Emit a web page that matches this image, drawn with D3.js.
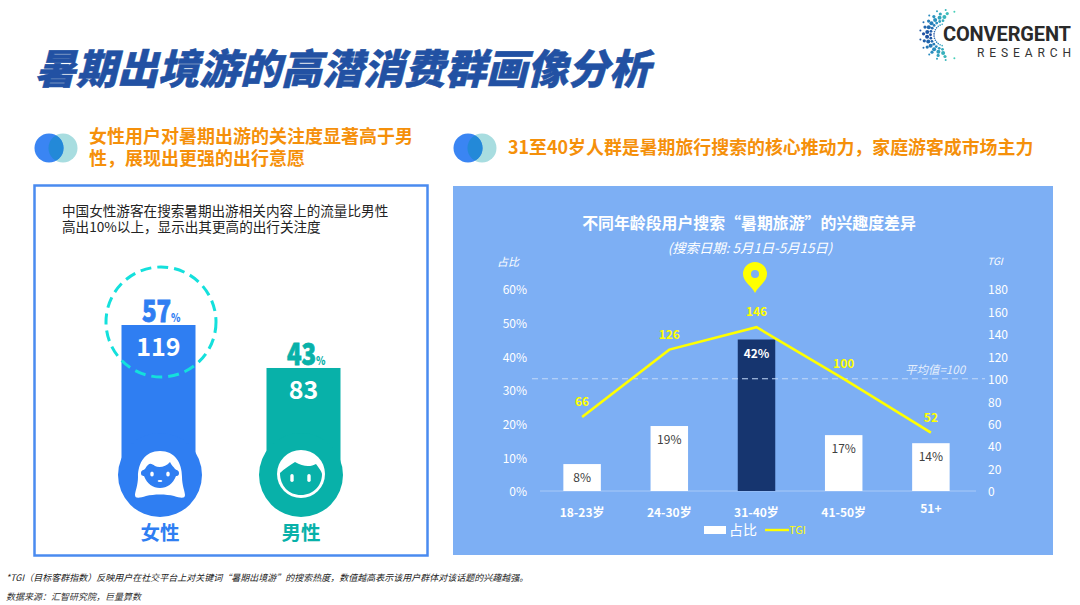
<!DOCTYPE html>
<html>
<head>
<meta charset="utf-8">
<script src="https://cdnjs.cloudflare.com/ajax/libs/d3/7.8.5/d3.min.js"></script>
<style>
  body { margin: 0; background: #fff; }
  svg { display: block; }
  text { font-family: "Noto Sans CJK SC", "Open Sans", sans-serif; }
</style>
</head>
<body>
<script>
// right chart
const ageGroups = ["18-23岁", "24-30岁", "31-40岁", "41-50岁", "51+"];
// bar heights as drawn in the picture; the 31-40 bar stands taller than its 42% label
const shareValues = [8, 19.3, 45, 16.6, 14.2];
const shareLabels = ["8%", "19%", "42%", "17%", "14%"];
const tgiValues = [66, 126, 146, 100, 52];
const tgiAverage = 100;
const shareTicks = [0, 10, 20, 30, 40, 50, 60];
const tgiTicks = [0, 20, 40, 60, 80, 100, 120, 140, 160, 180];

// left chart
const genders = ["女性", "男性"];
const genderShare = [57, 43];
const genderTgi = [119, 83];
const genderColors = ["#2f7ef2", "#08b1a9"];

const blue = "#2f7ef2", teal = "#a8dde0", orange = "#f5900a", navy = "#16356f", yellow = "#ffff00";

const svg = d3.select("body").append("svg").attr("width", 1080).attr("height", 605);

function addText(x, y, str, size, color, opts) {
  opts = opts || {};
  return svg.append("text")
    .attr("x", x).attr("y", y)
    .attr("font-size", size)
    .attr("fill", color)
    .attr("font-weight", opts.weight || 400)
    .attr("font-style", opts.italic ? "italic" : "normal")
    .attr("text-anchor", opts.anchor || "start")
    .text(str);
}

function addLines(x, y, lines, lineHeight, size, color, opts) {
  const t = addText(x, y, "", size, color, opts);
  lines.forEach((l, i) => {
    t.append("tspan").attr("x", x).attr("dy", i ? lineHeight : 0).text(l);
  });
  return t;
}

// header
addText(35, 84, "暑期出境游的高潜消费群画像分析", 41, "#2251a3", {weight: 900, italic: true})
  .attr("stroke", "#2251a3").attr("stroke-width", 0.5);

function venn(x) {
  svg.append("circle").attr("cx", x + 14).attr("cy", 148).attr("r", 14.5).attr("fill", teal);
  svg.append("circle").attr("cx", x).attr("cy", 148).attr("r", 14.5).attr("fill", blue).attr("fill-opacity", 0.95);
  const clip = "venn" + x;
  svg.append("clipPath").attr("id", clip).append("circle").attr("cx", x).attr("cy", 148).attr("r", 14.5);
  svg.append("circle").attr("cx", x + 14).attr("cy", 148).attr("r", 14.5).attr("fill", "#2389d8").attr("clip-path", "url(#" + clip + ")");
}
venn(49);
venn(468);

addLines(89, 143, ["女性用户对暑期出游的关注度显著高于男", "性，展现出更强的出行意愿"], 22, 18, orange, {weight: 700});
addText(508, 154, "31至40岁人群是暑期旅行搜索的核心推动力，家庭游客成市场主力", 17.9, orange, {weight: 700});

// logo
const logo = svg.append("g");
const logoColor = d3.scaleLinear().domain([0, 0.5, 1]).range(["#1c4aa0", "#2a8fc0", "#45cdb8"]);
const logoRings = [
  {r: 11, n: 14, size: 0.8, from: 105, to: 255},
  {r: 14.5, n: 13, size: 1.4, from: 100, to: 262},
  {r: 18, n: 12, size: 2.0, from: 96, to: 268},
  {r: 21.5, n: 11, size: 1.6, from: 90, to: 276},
  {r: 25, n: 12, size: 1.0, from: 68, to: 292}
];
logoRings.forEach(ring => {
  d3.range(ring.n).forEach(i => {
    const t = i / (ring.n - 1);
    const deg = ring.from + (ring.to - ring.from) * t;
    const a = deg * Math.PI / 180;
    logo.append("circle")
      .attr("cx", 945 + ring.r * Math.cos(a))
      .attr("cy", 35 + ring.r * Math.sin(a))
      .attr("r", ring.size)
      .attr("fill", logoColor(Math.abs(deg - 180) / 110));
  });
});
addText(943, 41, "CONVERGENT", 20, "#2a2a2a", {weight: 700}).attr("textLength", 128).style("font-family", "Roboto");
addText(977, 57, "RESEARCH", 12, "#333").attr("textLength", 94).style("font-family", "Roboto");

// left panel
svg.append("rect").attr("x", 34.5).attr("y", 185.5).attr("width", 393).attr("height", 370)
  .attr("fill", "#fff").attr("stroke", "#4a8bf0").attr("stroke-width", 2.5);
addLines(62, 216, ["中国女性游客在搜索暑期出游相关内容上的流量比男性", "高出10%以上，显示出其更高的出行关注度"], 16, 13.6, "#222");

const genderCx = g => g === genders[0] ? 158.5 : 303.5;
const genderY = d3.scaleLinear().domain([0, 57]).range([500, 325]);

genders.forEach((g, i) => {
  const cx = genderCx(g), color = genderColors[i];
  const faceX = i === 0 ? 160 : 301;
  svg.append("rect").attr("x", cx - 37).attr("y", genderY(genderShare[i]))
    .attr("width", 74).attr("height", 475 - genderY(genderShare[i])).attr("fill", color);
  svg.append("circle").attr("cx", faceX).attr("cy", 475).attr("r", 42).attr("fill", color);
  addText(cx, genderY(genderShare[i]) + 31, genderTgi[i], 25, "#fff", {weight: 700, anchor: "middle"});
  // condensed share number, the % stays small behind it
  const top = genderY(genderShare[i]) - 3;
  const num = svg.append("g").attr("transform", "translate(" + (cx - 2) + "," + top + ") scale(0.8,1)");
  num.append("text").attr("text-anchor", "middle").attr("font-size", 30).attr("font-weight", 900)
    .attr("fill", color).attr("stroke", color).attr("stroke-width", 0.8).text(genderShare[i]);
  num.append("text").attr("x", 18).attr("font-size", 12).attr("font-weight", 900)
    .attr("fill", color).text("%");
  addText(faceX, 540, g, 19.5, color, {weight: 700, anchor: "middle"});
});

svg.append("circle").attr("cx", 161).attr("cy", 322).attr("r", 55)
  .attr("fill", "none").attr("stroke", "#14e0dc").attr("stroke-width", 3).attr("stroke-dasharray", "11 6");

// female icon
const fem = svg.append("g").attr("transform", "translate(160,475)");
fem.append("path").attr("fill", "#fff")
  .attr("d", "M0,-24 C15,-24 22,-12 22,2 C22,10 25,17 25,20 C25,24 20,23 14,21 C6,19 -6,19 -14,21 C-20,23 -25,24 -25,20 C-25,17 -22,10 -22,2 C-22,-12 -15,-24 0,-24 Z");
fem.append("path").attr("fill", blue)
  .attr("d", "M-15,-6 C-11,-13 -9,-12 -5,-9 C-1,-7 6,-8 10,-13 C11,-10 14,-8 15,-6 C16,-5 19,-5 19,-2 C19,1 17,1 16,1 C13,9 7,13 0,13 C-7,13 -13,9 -16,1 C-17,1 -19,1 -19,-2 C-19,-5 -16,-5 -15,-6 Z");
fem.selectAll("ellipse").data([-8, 8]).enter().append("ellipse")
  .attr("cx", d => d).attr("cy", -1).attr("rx", 1.8).attr("ry", 2.6).attr("fill", "#fff");
fem.append("ellipse").attr("cx", 0).attr("cy", 6).attr("rx", 2.4).attr("ry", 1.1).attr("fill", "#fff");

// male icon
const mal = svg.append("g").attr("transform", "translate(301,474)");
mal.append("circle").attr("r", 24).attr("fill", "#fff");
mal.append("path").attr("fill", genderColors[1])
  .attr("d", "M-21,-1 C-17,-5 -11,-9 -6,-12 C2,-7 10,-7 15,-10 C18,-6 21,-2 21,0 C21,12 12,21 0,21 C-12,21 -21,12 -21,-1 Z");
mal.selectAll("rect").data([-9, 8]).enter().append("rect")
  .attr("x", d => d - 1.7).attr("y", 0).attr("width", 3.4).attr("height", 8).attr("rx", 1.7).attr("fill", "#fff");

// right panel
svg.append("rect").attr("x", 453).attr("y", 186).attr("width", 600).attr("height", 369).attr("fill", "#7dafF4");
addText(749, 229, "不同年龄段用户搜索“暑期旅游”的兴趣度差异", 15.9, "#fff", {weight: 700, anchor: "middle"});
addText(750, 253, "(搜索日期: 5月1日-5月15日)", 13.4, "#fff", {italic: true, anchor: "middle"});
addText(508, 266, "占比", 11, "#fff", {italic: true, anchor: "middle"});
addText(995, 265, "TGI", 10, "#fff", {italic: true, anchor: "middle"});

const x = d3.scaleBand().domain(ageGroups).range([538.5, 974.5]).paddingInner(0.57).paddingOuter(0.285);
const yShare = d3.scaleLinear().domain([0, 60]).range([491, 289]);
const yTgi = d3.scaleLinear().domain([0, 180]).range([491, 289]);
const mid = d => x(d) + x.bandwidth() / 2;

function styleAxis(g) {
  g.select(".domain").remove();
  g.selectAll("text").attr("fill", "#fff").attr("font-size", 12).attr("dy", "0.4em");
}
svg.append("g").attr("transform", "translate(527,0)")
  .call(d3.axisLeft(yShare).tickValues(shareTicks).tickSize(0).tickPadding(0).tickFormat(d => d + "%"))
  .call(styleAxis);
svg.append("g").attr("transform", "translate(988,0)")
  .call(d3.axisRight(yTgi).tickValues(tgiTicks).tickSize(0).tickPadding(0))
  .call(styleAxis);

svg.append("line").attr("x1", 540).attr("x2", 976).attr("y1", yShare(0)).attr("y2", yShare(0))
  .attr("stroke", "#a9c9f7").attr("stroke-width", 1);

svg.selectAll(".bar").data(ageGroups).enter().append("rect")
  .attr("class", "bar")
  .attr("x", d => x(d)).attr("width", x.bandwidth())
  .attr("y", (d, i) => yShare(shareValues[i]))
  .attr("height", (d, i) => yShare(0) - yShare(shareValues[i]))
  .attr("fill", (d, i) => i === 2 ? navy : "#fff");

svg.selectAll(".bar-label").data(ageGroups).enter().append("text")
  .attr("class", "bar-label")
  .attr("x", mid)
  .attr("y", (d, i) => yShare(shareValues[i]) + 18)
  .attr("text-anchor", "middle").attr("font-size", 12)
  .attr("font-weight", (d, i) => i === 2 ? 700 : 400)
  .attr("fill", (d, i) => i === 2 ? "#fff" : "#404040")
  .text((d, i) => shareLabels[i]);

svg.append("line").attr("x1", 532).attr("x2", 985).attr("y1", yTgi(tgiAverage)).attr("y2", yTgi(tgiAverage))
  .attr("stroke", "#c4d9f8").attr("stroke-width", 1).attr("stroke-dasharray", "6 4");
addText(935, 374, "平均值=" + tgiAverage, 11.5, "#e4eefc", {italic: true, anchor: "middle"});

const line = d3.line().x((d, i) => mid(ageGroups[i])).y(d => yTgi(d));
svg.append("path").datum(tgiValues).attr("d", line)
  .attr("fill", "none").attr("stroke", yellow).attr("stroke-width", 2.6);

svg.selectAll(".tgi-label").data(tgiValues).enter().append("text")
  .attr("class", "tgi-label")
  .attr("x", (d, i) => mid(ageGroups[i]))
  .attr("y", d => yTgi(d) - 11)
  .attr("text-anchor", "middle").attr("font-size", 12).attr("font-weight", 700)
  .attr("fill", yellow).text(d => d);

svg.selectAll(".cat-label").data(ageGroups).enter().append("text")
  .attr("class", "cat-label")
  .attr("x", mid)
  .attr("y", (d, i) => i === 4 ? 513 : 517)
  .attr("text-anchor", "middle").attr("font-size", 12).attr("font-weight", 700)
  .attr("fill", "#fff").text(d => d);

// pin above the peak
const pin = svg.append("g").attr("transform", "translate(755,275)");
pin.append("path").attr("fill", yellow)
  .attr("d", "M0,18 C-3,11 -12,7 -12,-1 A12,12 0 1 1 12,-1 C12,7 3,11 0,18 Z");
pin.append("circle").attr("cy", -1).attr("r", 4).attr("fill", "#7dafF4");

// legend
svg.append("rect").attr("x", 704).attr("y", 526).attr("width", 22).attr("height", 8).attr("fill", "#fff");
addText(729, 535, "占比", 14, "#fff");
svg.append("line").attr("x1", 765).attr("x2", 789).attr("y1", 530).attr("y2", 530)
  .attr("stroke", yellow).attr("stroke-width", 2.4);
addText(789, 534, "TGI", 11, yellow);

// footnotes
addText(6, 581, "*TGI（目标客群指数）反映用户在社交平台上对关键词“暑期出境游”的搜索热度，数值越高表示该用户群体对该话题的兴趣越强。", 9, "#222", {italic: true});
addText(6, 600, "数据来源：汇智研究院，巨量算数", 9, "#333", {italic: true});
</script>
</body>
</html>
